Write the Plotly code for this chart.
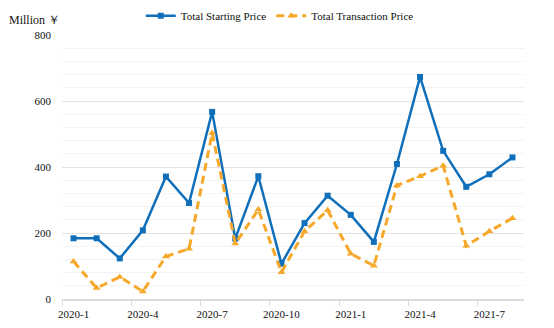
import plotly.graph_objects as go

months = ["2020-1", "2020-2", "2020-3", "2020-4", "2020-5", "2020-6", "2020-7", "2020-8",
          "2020-9", "2020-10", "2020-11", "2020-12", "2021-1", "2021-2", "2021-3", "2021-4",
          "2021-5", "2021-6", "2021-7", "2021-8"]
starting = [184, 184, 123, 208, 371, 291, 567, 183, 372, 107, 230, 313, 255, 173, 409, 673,
            449, 340, 378, 429]
transaction = [114, 33, 67, 23, 129, 152, 503, 168, 271, 81, 205, 269, 137, 101, 344, 372,
               404, 161, 205, 245]
label_months = ["2020-1", "2020-4", "2020-7", "2020-10", "2021-1", "2021-4", "2021-7"]

idx = list(range(len(months)))
tickvals = [months.index(m) for m in label_months]

FONT = "Times New Roman, Liberation Serif, DejaVu Serif, serif"
BLUE = "#0f6fba"
ORANGE = "#f6a82a"
TICKFONT = dict(family=FONT, size=11, color="#111")

fig = go.Figure()
fig.add_trace(go.Scatter(
    x=idx, y=starting, name="Total Starting Price", mode="lines+markers",
    line=dict(color=BLUE, width=2.5),
    marker=dict(symbol="square", size=6, color=BLUE),
))
fig.add_trace(go.Scatter(
    x=idx, y=transaction, name="Total Transaction Price", mode="lines+markers",
    line=dict(color=ORANGE, width=3, dash="8px,5px"),
    marker=dict(symbol="triangle-up", size=7, color=ORANGE),
))

fig.update_layout(
    width=554, height=328,
    margin=dict(l=62, r=30, t=35, b=29, autoexpand=False),
    paper_bgcolor="white", plot_bgcolor="white",
    font=dict(family=FONT, size=11, color="#111"),
    showlegend=True,
    legend=dict(orientation="h", x=0.505, xref="container", xanchor="center",
                y=0.952, yref="container", yanchor="middle",
                itemwidth=30, font=dict(family=FONT, size=11, color="#111"),
                bgcolor="rgba(0,0,0,0)", tracegroupgap=0),
    xaxis=dict(
        range=[-0.5, len(months) - 0.5],
        tickmode="array", tickvals=tickvals, ticktext=label_months,
        tickfont=TICKFONT,
        ticks="", showgrid=False, zeroline=False,
        showline=True, linecolor="#dcdcdc", linewidth=1.5,
        minor=dict(tick0=-0.5, dtick=3, ticks="outside", ticklen=5,
                   tickcolor="#dcdcdc", tickwidth=1, showgrid=False),
        ticklabelstandoff=4,
    ),
    yaxis=dict(
        range=[0, 800], dtick=200, tick0=0,
        tickfont=TICKFONT,
        showgrid=True, gridcolor="#e3e3e3", gridwidth=1.2,
        zeroline=False, showline=False, ticks="",
        minor=dict(dtick=40, showgrid=True, gridcolor="#f3f3f3", gridwidth=1),
        ticklabelstandoff=10,
    ),
    annotations=[dict(
        text="Million ￥", xref="paper", yref="paper", x=0, y=1.057,
        xanchor="right", yanchor="middle", showarrow=False,
        font=dict(family=FONT, size=12, color="#111"),
    )],
)

fig.write_html("out.html")
